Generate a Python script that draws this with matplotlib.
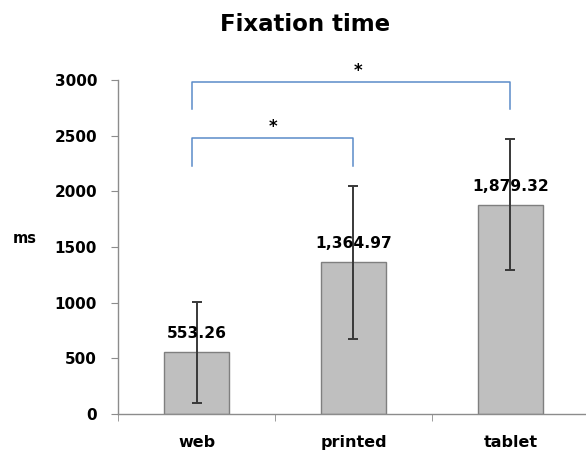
import numpy as np
import matplotlib.pyplot as plt

# values
categories = ['web', 'printed', 'tablet']
means = [553.26, 1364.97, 1879.32]
errors = [450, 688, 590]
value_labels = ['553.26', '1,364.97', '1,879.32']
yticks = [0, 500, 1000, 1500, 2000, 2500, 3000]

# significance brackets: (from, to, height, drop)
brackets = [(0, 2, 2985, 245), (0, 1, 2480, 255)]

fig = plt.figure(figsize=(5.86, 4.5), dpi=100)
ax = fig.add_axes([0.2014, 0.08, 0.8036, 0.742])

x = np.arange(len(categories))
ax.bar(x, means, width=0.41, color='#BFBFBF', edgecolor='#7F7F7F', linewidth=1, zorder=2)
ax.errorbar(x, means, yerr=errors, fmt='none', ecolor='#383838', elinewidth=1.4,
            capsize=3.5, capthick=1.4, zorder=3)

for xi, m, lab in zip(x, means, value_labels):
    ax.text(xi, m + 100, lab, ha='center', va='bottom', fontsize=11.2,
            fontweight='bold', color='black')

# brackets with stars
bcol = '#5B8BC9'
for a, b, h, d in brackets:
    xa, xb = a - 0.03, b
    ax.plot([xa, xa, xb, xb], [h - d, h, h, h - d], color=bcol, lw=1.1,
            clip_on=False, zorder=4)
ax.text(1.03, 3000, '*', ha='center', va='bottom', fontsize=12, fontweight='bold',
        clip_on=False)
ax.text(0.49, 2495, '*', ha='center', va='bottom', fontsize=12, fontweight='bold',
        clip_on=False)

ax.set_xlim(-0.5, 2.5)
ax.set_ylim(0, 3000)
ax.set_yticks(yticks)
ax.set_yticklabels([str(t) for t in yticks], fontsize=11, fontweight='bold')
ax.tick_params(axis='y', direction='out', length=5, color='#8C8C8C', pad=10)

ax.set_xticks(x)
ax.set_xticklabels(categories, fontsize=11.5, fontweight='bold')
ax.tick_params(axis='x', which='major', length=0, pad=15)
ax.set_xticks([-0.5, 0.5, 1.5, 2.5], minor=True)
ax.tick_params(axis='x', which='minor', direction='out', length=5, color='#8C8C8C')

for s in ['top', 'right']:
    ax.spines[s].set_visible(False)
for s in ['left', 'bottom']:
    ax.spines[s].set_color('#8C8C8C')
    ax.spines[s].set_linewidth(1)

fig.text(0.043, 0.47, 'ms', fontsize=10.5, fontweight='bold', ha='center', va='center')
fig.text(0.521, 0.945, 'Fixation time', fontsize=16.5, fontweight='bold',
         ha='center', va='center')

fig.savefig('out.png', dpi=100)
